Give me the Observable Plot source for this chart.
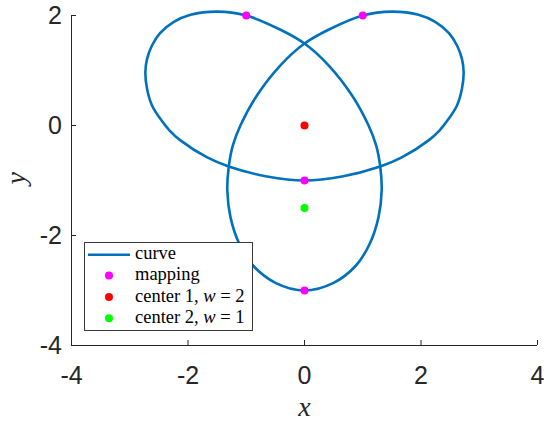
<!DOCTYPE html>
<html><head><meta charset="utf-8">
<script src="https://cdn.jsdelivr.net/npm/d3@7"></script>
<script src="https://cdn.jsdelivr.net/npm/@observablehq/plot@0.6"></script>
<style>body{margin:0;background:#fff}</style>
</head><body><div id="chart"></div>
<script>
// closed curve, traced in order from the picture
const curveX = [0, 0.50, 0.88, 1.12, 1.27, 1.325, 1.30, 1.23, 1.10, 0.817, 0.417, 0,
  -0.42, -1.0, -1.5, -1.957, -2.25, -2.48, -2.618, -2.703, -2.732, -2.703, -2.618, -2.475, -2.32, -2.13, -1.67, -1.30, -0.645, 0,
  0.645, 1.30, 1.67, 2.13, 2.32, 2.475, 2.618, 2.703, 2.732, 2.703, 2.618, 2.48, 2.25, 1.957, 1.5, 1.0, 0.42, 0,
  -0.417, -0.817, -1.10, -1.23, -1.30, -1.325, -1.27, -1.12, -0.88, -0.50];
const curveY = [-3, -2.86, -2.55, -2.15, -1.67, -1.18, -0.745, -0.36, 0, 0.545, 1.09, 1.49,
  1.745, 2.0, 2.07, 2.012, 1.88, 1.68, 1.455, 1.212, 0.97, 0.667, 0.364, 0.121, -0.087, -0.27, -0.58, -0.745, -0.927, -1,
  -0.927, -0.745, -0.58, -0.27, -0.087, 0.121, 0.364, 0.667, 0.97, 1.212, 1.455, 1.68, 1.88, 2.012, 2.07, 2.0, 1.745, 1.49,
  1.09, 0.545, 0, -0.36, -0.745, -1.18, -1.67, -2.15, -2.55, -2.86];
const mappingX = [-1, 1, 0, 0];
const mappingY = [2, 2, -1, -3];
const center1X = [0], center1Y = [0];
const center2X = [0], center2Y = [-1.5];
const xTicks = [-4, -2, 0, 2, 4];
const yTicks = [-4, -2, 0, 2];
const xDomain = [-4, 4];
const yDomain = [-4, 2];
const xTitle = "x", yTitle = "y";
const legendLabels = [["curve"], ["mapping"], ["center 1, ", "w", " = 2"], ["center 2, ", "w", " = 1"]];

const COL = {curve: "#0072BD", mapping: "#FF00FF", c1: "#FF0000", c2: "#00FF00", axis: "#262626"};
const curve = curveX.map((x, i) => ({x, y: curveY[i]}));
const mapping = mappingX.map((x, i) => ({x, y: mappingY[i]}));
const c1 = center1X.map((x, i) => ({x, y: center1Y[i]}));
const c2 = center2X.map((x, i) => ({x, y: center2Y[i]}));
const sans = "'Liberation Sans', Arial, Helvetica, sans-serif";
const serif = "'Liberation Serif', 'Times New Roman', serif";

const chart = Plot.plot({
  width: 550, height: 425,
  marginLeft: 71, marginRight: 13, marginTop: 15, marginBottom: 80,
  x: {domain: xDomain},
  y: {domain: yDomain},
  style: {fontFamily: sans, color: COL.axis, background: "#fff"},
  marks: [
    Plot.axisX({ticks: xTicks, tickSize: -5, tickPadding: 26, tickFormat: d => String(d), fontSize: 25, label: null}),
    Plot.axisY({ticks: yTicks, tickSize: -5, tickPadding: 14.5, tickFormat: d => String(d), fontSize: 25, label: null}),
    Plot.ruleY([yDomain[0]], {stroke: COL.axis}),
    Plot.ruleX([xDomain[0]], {stroke: COL.axis}),
    Plot.line(curve, {x: "x", y: "y", curve: "catmull-rom-closed", stroke: COL.curve, strokeWidth: 2.6}),
    Plot.dot(mapping, {x: "x", y: "y", r: 4, fill: COL.mapping}),
    Plot.dot(c1, {x: "x", y: "y", r: 4, fill: COL.c1}),
    Plot.dot(c2, {x: "x", y: "y", r: 4, fill: COL.c2}),
    Plot.text([xTitle], {text: d => d, frameAnchor: "bottom", dy: 70, fontFamily: serif, fontStyle: "italic", fontSize: 28, fill: COL.axis}),
    Plot.text([yTitle], {text: d => d, frameAnchor: "left", dx: -55, dy: 4, rotate: -90, fontFamily: serif, fontStyle: "italic", fontSize: 28, fill: COL.axis})
  ]
});
document.getElementById("chart").appendChild(chart);

// legend box (MATLAB style, inside the axes)
const svg = d3.select(chart);
const lg = svg.append("g").attr("text-anchor", "start");
lg.append("rect").attr("x", 84.5).attr("y", 242.5).attr("width", 168).attr("height", 88)
  .attr("fill", "#fff").attr("stroke", "#3a3a3a").attr("stroke-width", 1);
const rowY = [254.7, 275.6, 297, 318.2];
const swatches = ["line", COL.mapping, COL.c1, COL.c2];
legendLabels.forEach((parts, i) => {
  const y = rowY[i];
  if (swatches[i] === "line") {
    lg.append("line").attr("x1", 88).attr("x2", 130).attr("y1", y).attr("y2", y)
      .attr("stroke", COL.curve).attr("stroke-width", 2.6);
  } else {
    lg.append("circle").attr("cx", 109).attr("cy", y).attr("r", 4).attr("fill", swatches[i]);
  }
  const t = lg.append("text").attr("x", 135).attr("y", y + 4.5).attr("text-anchor", "start")
    .attr("font-family", serif).attr("font-size", 18.5).attr("fill", "#000");
  parts.forEach((p, j) => {
    t.append("tspan").attr("font-style", j === 1 ? "italic" : "normal").attr("xml:space", "preserve").text(p);
  });
});
</script>
</body></html>
